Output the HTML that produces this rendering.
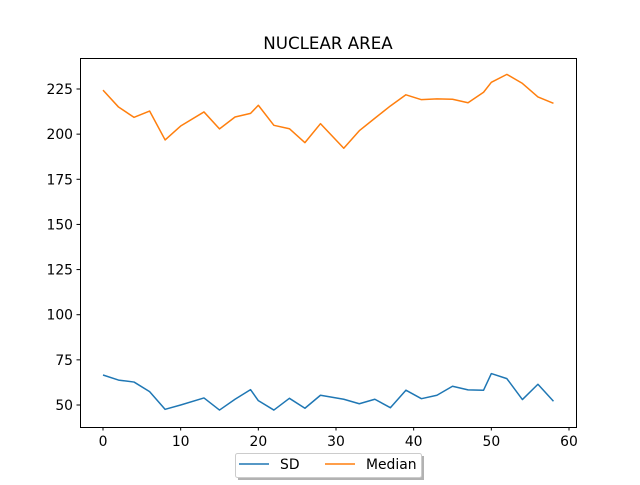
<!DOCTYPE html>
<html><head><meta charset="utf-8"><style>
body{margin:0;background:#fff;width:640px;height:480px;overflow:hidden}
svg text{font-family:"DejaVu Sans","Liberation Sans",sans-serif;fill:#000}
</style></head><body>
<svg id="chart" width="640" height="480" xmlns="http://www.w3.org/2000/svg">
<rect width="640" height="480" fill="#fff"/>
<text x="328" y="49" font-size="16.7" text-anchor="middle">NUCLEAR AREA</text>
<g id="grid"></g>
<g id="series"></g>
<rect x="80.5" y="58.5" width="496" height="369" fill="none" stroke="#000" stroke-width="1"/>
<g>
<rect x="238" y="456" width="186" height="25" fill="#666" opacity="0.5"/>
<rect x="235.5" y="453.5" width="186" height="24" fill="#fff" stroke="#ccc" rx="2"/>
<line x1="239" y1="464" x2="269" y2="464" stroke="#1f77b4" stroke-width="1.5"/>
<text x="280" y="469" font-size="13.9">SD</text>
<line x1="325" y1="464" x2="355" y2="464" stroke="#ff7f0e" stroke-width="1.5"/>
<text x="366" y="469" font-size="13.9">Median</text>
</g>
</svg>
<script>
const xs=[0,2,4,6,8,10,13,15,17,19,20,22,24,26,28,31,33,35,37,39,41,43,45,47,49,50,52,54,56,58];
const sd=[66.6,63.8,62.7,57.4,47.6,50,53.9,47.2,53.2,58.5,52.4,47.2,53.7,48.2,55.4,53.2,50.7,53.2,48.5,58.2,53.5,55.4,60.4,58.4,58.2,67.4,64.6,53,61.5,52.1];
const median=[224.4,215,209.3,212.8,196.8,204.5,212.3,202.9,209.5,211.5,216,204.9,203,195.3,205.8,192.2,201.9,208.8,215.6,221.8,219.1,219.5,219.3,217.4,223.2,228.7,233.1,228.1,220.6,217.1];
const xTicks=[0,10,20,30,40,50,60];
const yTicks=[50,75,100,125,150,175,200,225];
const NS='http://www.w3.org/2000/svg';
function X(v){return 103+(v)*(569-103)/60;}
function Y(v){return 405-(v-50)*(405-89)/175;}
const g=document.getElementById('grid'),s=document.getElementById('series');
function mk(t,a,p){const e=document.createElementNS(NS,t);for(const k in a)e.setAttribute(k,a[k]);p.appendChild(e);return e;}
xTicks.forEach(v=>{
 const l=mk('line',{x1:X(v),x2:X(v),y1:427,y2:430.5,stroke:'#000'},g);
 
 
 const t=mk('text',{x:X(v),y:446,'font-size':13.9,'text-anchor':'middle'},g);t.textContent=v;
 
 
});
yTicks.forEach(v=>{
 const l=mk('line',{x1:76.5,x2:80,y1:Y(v),y2:Y(v),stroke:'#000'},g);
 
 
 const t=mk('text',{x:73,y:Y(v)+5,'font-size':13.9,'text-anchor':'end'},g);t.textContent=v;
 
 
});
function line(vals,color,name){
 const p=mk('polyline',{points:vals.map((v,i)=>X(xs[i])+','+Y(v)).join(' '),fill:'none',stroke:color,'stroke-width':1.5,'stroke-linejoin':'round'},s);
 
 
}
line(sd,'#1f77b4','sd-line');
line(median,'#ff7f0e','median-line');
</script>
</body></html>
